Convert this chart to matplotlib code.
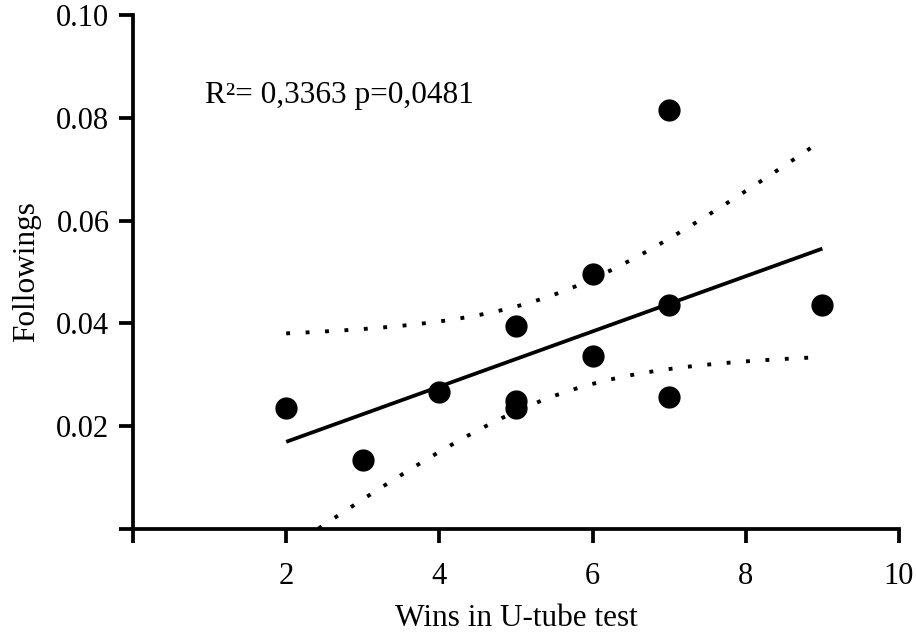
import numpy as np
import matplotlib
matplotlib.use("Agg")
import matplotlib.pyplot as plt

plt.rcParams['font.family'] = ['Liberation Serif', 'DejaVu Serif']

wins = np.array([2, 3, 4, 5, 5, 5, 6, 6, 7, 7, 7, 9], dtype=float)
followings = np.array([0.0235, 0.0135, 0.0267, 0.0394, 0.0249, 0.0235,
                       0.0496, 0.0337, 0.0816, 0.0435, 0.0257, 0.0435])
annotation = "R\u00b2= 0,3363 p=0,0481"
x_ticks = [0, 2, 4, 6, 8, 10]
x_ticklabels = ["", "2", "4", "6", "8", "10"]
y_ticks = [0, 0.02, 0.04, 0.06, 0.08, 0.10]
y_ticklabels = ["", "0.02", "0.04", "0.06", "0.08", "0.10"]
T_CRIT = 2.228  # t(0.975, df=10)

# linear regression + 95% confidence band
n = len(wins)
slope, intercept = np.polyfit(wins, followings, 1)
resid = followings - (slope * wins + intercept)
s = np.sqrt(np.sum(resid ** 2) / (n - 2))
xm = wins.mean()
sxx = np.sum((wins - xm) ** 2)
xf = np.linspace(wins.min(), wins.max(), 200)
yf = slope * xf + intercept
se = s * np.sqrt(1.0 / n + (xf - xm) ** 2 / sxx)
upper = yf + T_CRIT * se
lower = yf - T_CRIT * se

fig = plt.figure(figsize=(9.16, 6.4), dpi=100)
ax = fig.add_axes([0.1452, 0.1734, 0.8362, 0.8032])

LW = 2.7
ax.plot(xf, yf, color='black', lw=LW, solid_capstyle='butt')
ax.plot(xf, upper, color='black', lw=2.8, linestyle=(0, (1.0, 4.0)))
ax.plot(xf, lower, color='black', lw=2.8, linestyle=(0, (1.0, 4.0)))
ax.plot(wins, followings, 'o', color='black', markersize=15, zorder=5)

ax.set_xlim(0, 10)
ax.set_ylim(0, 0.10)
ax.set_xticks(x_ticks)
ax.set_xticklabels(x_ticklabels)
ax.set_yticks(y_ticks)
ax.set_yticklabels(y_ticklabels)

for side in ['top', 'right']:
    ax.spines[side].set_visible(False)
for side in ['left', 'bottom']:
    ax.spines[side].set_linewidth(LW)
ax.tick_params(axis='both', width=LW, length=10, labelsize=22)
ax.tick_params(axis='x', pad=14)
ax.tick_params(axis='y', pad=7)

ax.set_xlabel("Wins in U-tube test", fontsize=22.5, labelpad=9)
ax.set_ylabel("Followings", fontsize=22.5, labelpad=11)
ax.text(0.94, 0.0844, annotation, fontsize=22.5, ha='left', va='center')

fig.savefig("out.png", dpi=100)
